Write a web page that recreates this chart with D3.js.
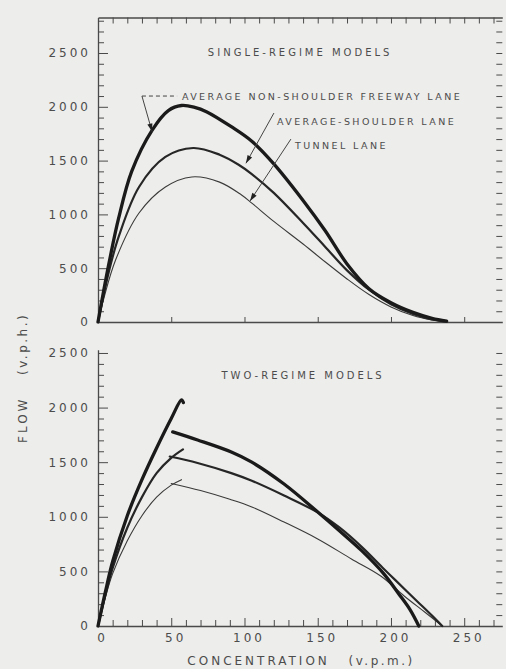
<!DOCTYPE html>
<html><head><meta charset="utf-8">
<script src="https://cdn.jsdelivr.net/npm/d3@7"></script>
<style>
body{margin:0;background:#ededeb;}
svg{display:block;background:#ededeb}
text{font-family:"DejaVu Sans",sans-serif;fill:#4c4c4c}
</style></head><body>
<svg id="c" width="506" height="669"></svg>
<script>
// ---------- DATA (concentration k in v.p.m., flow q in v.p.h.) ----------
const yTickLabels = [0, 500, 1000, 1500, 2000, 2500];
const xTickLabels = [0, 50, 100, 150, 200, 250];

// Single-regime models
const singleNonShoulder = [[0,0],[4,300],[8,580],[14,960],[23,1400],[37,1784],[48,1965],[57,2012],[66,1995],[74,1955],[91,1815],[105,1680],[120,1470],[140,1130],[155,850],[170,540],[185,310],[200,180],[215,90],[228,35],[238,8]];
const singleShoulder = [[0,0],[4,260],[8,500],[14.3,800],[28,1255],[46,1534],[65,1617],[83,1555],[96,1462],[105,1375],[120,1200],[140,920],[155,700],[170,480],[185,300],[200,165],[215,75],[228,25],[238,5]];
const singleTunnel = [[0,0],[4,220],[12,576],[28,1013],[46,1255],[64,1348],[83,1300],[98,1180],[105,1105],[120,935],[140,725],[155,560],[170,400],[185,255],[200,140],[215,60],[228,18],[236,3]];

// Two-regime models
const twoNonShoulderFree = [[0,0],[5,310],[10,590],[20,1010],[30,1340],[40,1630],[50,1900],[57,2070],[58.3,2045]];
const twoNonShoulderCong = [[51,1777],[68,1703],[91,1593],[105,1500],[127,1300],[150,1044],[165,870],[180,690],[195,480],[205,300],[213,150],[219,0]];
const twoShoulderFree = [[0,0],[5,280],[10,530],[20,900],[30,1180],[40,1400],[50,1540],[58,1618]];
const twoShoulderCong = [[49,1552],[68,1493],[91,1400],[105,1330],[127,1195],[150,1040],[165,900],[180,725],[195,525],[203,420],[218,225],[228,95],[235,0]];
const twoTunnelFree = [[0,0],[5,260],[10,480],[20,780],[30,1010],[40,1180],[50,1290],[57,1340]];
const twoTunnelCong = [[50,1305],[70,1240],[90,1160],[105,1090],[127,952],[150,797],[173,614],[193,458],[209,275],[223,128],[235,0]];

// Labels / annotations (in data units of the top panel)
const seriesLabels = ["AVERAGE NON-SHOULDER FREEWAY LANE", "AVERAGE-SHOULDER LANE", "TUNNEL LANE"];
const labelAnchors = [[57.3, 2100], [122.2, 1868], [134.5, 1645]];
const leaderLines = [ [[30,2100],[36.9,1770]], [[120.1,1942],[101,1475]], [[131.7,1700],[103.8,1125]] ];
const dashLine = [[30,2100],[54,2100]];
const panelTitles = ["SINGLE-REGIME MODELS", "TWO-REGIME MODELS"];

// ---------- DRAW ----------
const svg = d3.select("#c");
const x = d3.scaleLinear().domain([0, 276]).range([98, 502.3]);
const yT = d3.scaleLinear().domain([0, 2830]).range([322, 17.5]);
const yB = d3.scaleLinear().domain([0, 2530]).range([626, 349.7]);
const fmt = d3.format("d");

const axisColor = "#4a4a4a";
function styleAxis(g, noDomain){
  g.selectAll("path.domain").attr("stroke", axisColor).attr("stroke-width", 1.3);
  g.selectAll(".tick line").attr("stroke", axisColor).attr("stroke-width", 1);
  g.selectAll(".tick text").attr("fill","#555").style("font-family",'"DejaVu Sans",sans-serif')
    .style("font-size","12px").style("letter-spacing","3px");
  if(noDomain) g.select("path.domain").remove();
}
const minorY = (max) => d3.range(100, max+1, 100).filter(v => v % 500 !== 0);
const minorX = d3.range(10, 271, 10).filter(v => v % 50 !== 0);

// ----- TOP PANEL -----
svg.append("g").attr("transform",`translate(0,${yT(2830)})`)
  .call(d3.axisTop(x).tickValues(d3.range(10, 271, 10)).tickSize(-6).tickSizeOuter(0).tickFormat(""))
  .call(g=>styleAxis(g));
svg.append("g").attr("transform",`translate(0,${yT(0)})`)
  .call(d3.axisBottom(x).tickValues([50,100,150,200,250]).tickSize(-5).tickSizeOuter(0).tickFormat(""))
  .call(g=>styleAxis(g));
svg.append("g").attr("transform",`translate(${x(0)},0)`)
  .call(d3.axisLeft(yT).tickValues(minorY(2800)).tickSize(-6).tickSizeOuter(0).tickFormat(""))
  .call(g=>styleAxis(g));
svg.append("g").attr("transform",`translate(${x(0)},0)`)
  .call(d3.axisLeft(yT).tickValues(yTickLabels).tickSize(-10).tickSizeOuter(0).tickPadding(7).tickFormat(fmt))
  .call(g=>styleAxis(g, true));
svg.append("g").attr("transform",`translate(${x(276)},0)`)
  .call(d3.axisRight(yT).tickValues(d3.range(100, 2801, 100)).tickSize(-6).tickFormat(""))
  .call(g=>styleAxis(g, true));

// ----- BOTTOM PANEL -----
svg.append("g").attr("transform",`translate(0,${yB(0)})`)
  .call(d3.axisBottom(x).tickValues(minorX).tickSize(-6).tickSizeOuter(0).tickFormat(""))
  .call(g=>styleAxis(g));
svg.append("g").attr("transform",`translate(0,${yB(0)})`)
  .call(d3.axisBottom(x).tickValues(xTickLabels).tickSize(-8).tickSizeOuter(0).tickPadding(7).tickFormat(fmt))
  .call(g=>styleAxis(g, true))
  .call(g=>g.selectAll(".tick text").attr("dx", 4));
svg.append("g").attr("transform",`translate(${x(0)},0)`)
  .call(d3.axisLeft(yB).tickValues(minorY(2500)).tickSize(-6).tickSizeOuter(0).tickFormat(""))
  .call(g=>styleAxis(g));
svg.append("g").attr("transform",`translate(${x(0)},0)`)
  .call(d3.axisLeft(yB).tickValues(yTickLabels).tickSize(-10).tickSizeOuter(0).tickPadding(7).tickFormat(fmt))
  .call(g=>styleAxis(g, true));
svg.append("g").attr("transform",`translate(${x(276)},0)`)
  .call(d3.axisRight(yB).tickValues(d3.range(100, 2501, 100)).tickSize(-6).tickFormat(""))
  .call(g=>styleAxis(g, true));

// ----- CURVES -----
function drawCurve(data, y, w, color){
  const line = d3.line().x(d=>x(d[0])).y(d=>y(d[1])).curve(d3.curveCatmullRom.alpha(0.5));
  svg.append("path").datum(data).attr("d", line).attr("fill","none")
    .attr("stroke", color).attr("stroke-width", w).attr("stroke-linecap","round").attr("stroke-linejoin","round");
}
drawCurve(singleTunnel, yT, 1.1, "#3a3a3a");
drawCurve(singleShoulder, yT, 2.2, "#262626");
drawCurve(singleNonShoulder, yT, 3.3, "#1a1a1a");

drawCurve(twoTunnelFree, yB, 1.1, "#3a3a3a");
drawCurve(twoTunnelCong, yB, 1.1, "#3a3a3a");
drawCurve(twoShoulderFree, yB, 2.2, "#262626");
drawCurve(twoShoulderCong, yB, 2.2, "#262626");
drawCurve(twoNonShoulderFree, yB, 3.3, "#1a1a1a");
drawCurve(twoNonShoulderCong, yB, 3.3, "#1a1a1a");

// ----- ANNOTATIONS -----
const tstyle = (s, size, ls) => s.style("font-size", size+"px").style("letter-spacing", ls+"px").attr("fill","#3e3e3e");
svg.append("text").attr("x", x(138)).attr("y", yT(2472)).attr("text-anchor","middle").text(panelTitles[0]).call(tstyle, 10, 3);
svg.append("text").attr("x", x(140)).attr("y", yB(2262)).attr("text-anchor","middle").text(panelTitles[1]).call(tstyle, 10, 3);

seriesLabels.forEach((s,i)=>{
  svg.append("text").attr("x", x(labelAnchors[i][0])).attr("y", yT(labelAnchors[i][1]) + 3.5).text(s).call(tstyle, 9.5, 2.4);
});
svg.append("line").attr("x1", x(dashLine[0][0])).attr("y1", yT(dashLine[0][1]))
  .attr("x2", x(dashLine[1][0])).attr("y2", yT(dashLine[1][1]))
  .attr("stroke","#444").attr("stroke-width",1).attr("stroke-dasharray","4,3");
leaderLines.forEach(l=>{
  const [a,b] = l;
  const x1=x(a[0]), y1=yT(a[1]), x2=x(b[0]), y2=yT(b[1]);
  svg.append("line").attr("x1",x1).attr("y1",y1).attr("x2",x2).attr("y2",y2).attr("stroke","#444").attr("stroke-width",1);
  const ang = Math.atan2(y2-y1, x2-x1);
  const L=8, Wd=2.6;
  const bx = x2 - L*Math.cos(ang), by = y2 - L*Math.sin(ang);
  const px = -Math.sin(ang)*Wd, py = Math.cos(ang)*Wd;
  svg.append("path").attr("d", `M${x2},${y2}L${bx+px},${by+py}L${bx-px},${by-py}Z`).attr("fill","#222");
});

// axis titles
svg.append("text").attr("x", x(61)).attr("y", 665).text("CONCENTRATION").call(tstyle, 12, 3);
svg.append("text").attr("x", x(171)).attr("y", 665).text("(v.p.m.)").call(tstyle, 12, 2.5);
svg.append("text").attr("transform","translate(27,443) rotate(-90)").text("FLOW").call(tstyle, 12, 3);
svg.append("text").attr("transform","translate(27,375) rotate(-90)").text("(v.p.h.)").call(tstyle, 12, 2.5);
</script>
</body></html>
